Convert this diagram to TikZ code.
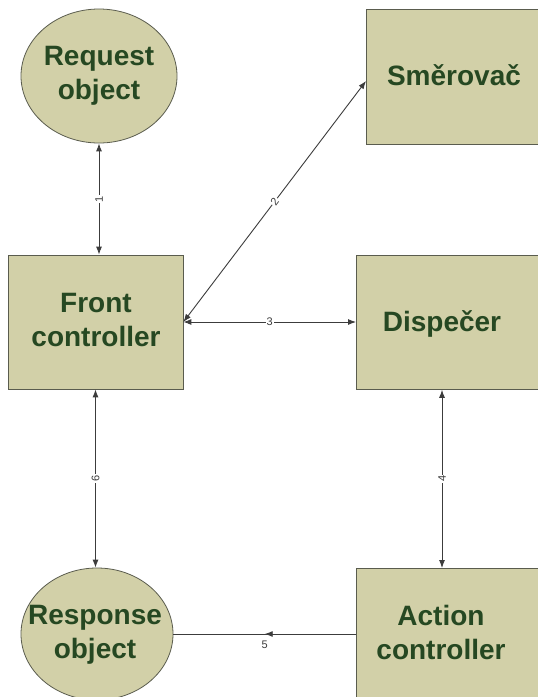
\documentclass[tikz,border=0pt]{standalone}
\usepackage{fontspec}
\setmainfont{Liberation Sans}
\usetikzlibrary{shapes.geometric,arrows.meta,decorations.markings,calc}
\definecolor{boxfill}{RGB}{210,208,168}
\definecolor{boxline}{RGB}{90,92,78}
\definecolor{txtgreen}{RGB}{38,72,34}
\definecolor{connc}{RGB}{60,60,60}
\begin{document}
\begin{tikzpicture}[x=1pt,y=-1pt,
  shapebox/.style={draw=boxline, fill=boxfill, line width=0.8pt, inner sep=0pt},
  lbl/.style={font=\fontsize{28}{34}\selectfont\bfseries, text=txtgreen, align=center, inner sep=0pt},
  conn/.style={draw=connc, line width=0.9pt},
  both/.style={conn, {Latex[length=8pt,width=6pt]}-{Latex[length=8pt,width=6pt]}},
  midarrow/.style={conn, decoration={markings, mark=at position 0.5 with {\arrow{Latex[length=8pt,width=6pt]}}}, postaction=decorate},
  num/.style={font=\fontsize{11}{11}\selectfont, text=connc, fill=white, inner sep=1pt}]

\path[use as bounding box] (0,0) rectangle (538,697);
\fill[white] (0,0) rectangle (538,697);
\clip (0,0) rectangle (538,697);

% shapes
\node[shapebox, ellipse, minimum width=156pt, minimum height=134pt] (req) at (99,76) {};
\node[shapebox, minimum width=175pt, minimum height=134pt] (front) at (95.5,322) {};
\node[shapebox, anchor=north west, minimum width=180pt, minimum height=135pt] (smer) at (366,9) {};
\node[shapebox, anchor=north west, minimum width=190pt, minimum height=134pt] (disp) at (356,255) {};
\node[shapebox, anchor=north west, minimum width=190pt, minimum height=140pt] (act) at (356,568) {};
\node[shapebox, ellipse, minimum width=152pt, minimum height=132pt] (resp) at (97,634) {};

% texts
\node[lbl] (req-t) at (99,76) {Request\\object};
\node[lbl] (front-t) at (96,320) {Front\\controller};
\node[lbl, anchor=base] (smer-t) at (454,85) {Směrovač};
\node[lbl, anchor=base] (disp-t) at (442,331) {Dispečer};
\node[lbl] (act-t) at (441,632.5) {Action\\controller};
\node[lbl] (resp-t) at (95,634.5) {Response\\object};

% connectors
\coordinate (s2) at ($(smer.north west)+(0,72)$);
\coordinate (d4) at ($(disp.south west)+(86,0)$);

\draw[both] (req.south) -- (req.south |- front.north)
  node[num, midway, rotate=90] (n1) {1};
\draw[both] (front.east) -- (s2)
  node[num, midway, sloped] (n2) {2};
\draw[both] (front.east) -- (disp.west |- front.east)
  node[num, midway] (n3) {3};
\draw[both] (d4) -- (d4 |- act.north)
  node[num, midway, rotate=90] (n4) {4};
\draw[midarrow] (act.west |- resp.east) -- (resp.east)
  node[num, midway, below=5pt, fill=none] (n5) {5};
\draw[both] (front.south) -- (front.south |- resp.north)
  node[num, midway, rotate=90] (n6) {6};
\end{tikzpicture}
\end{document}
